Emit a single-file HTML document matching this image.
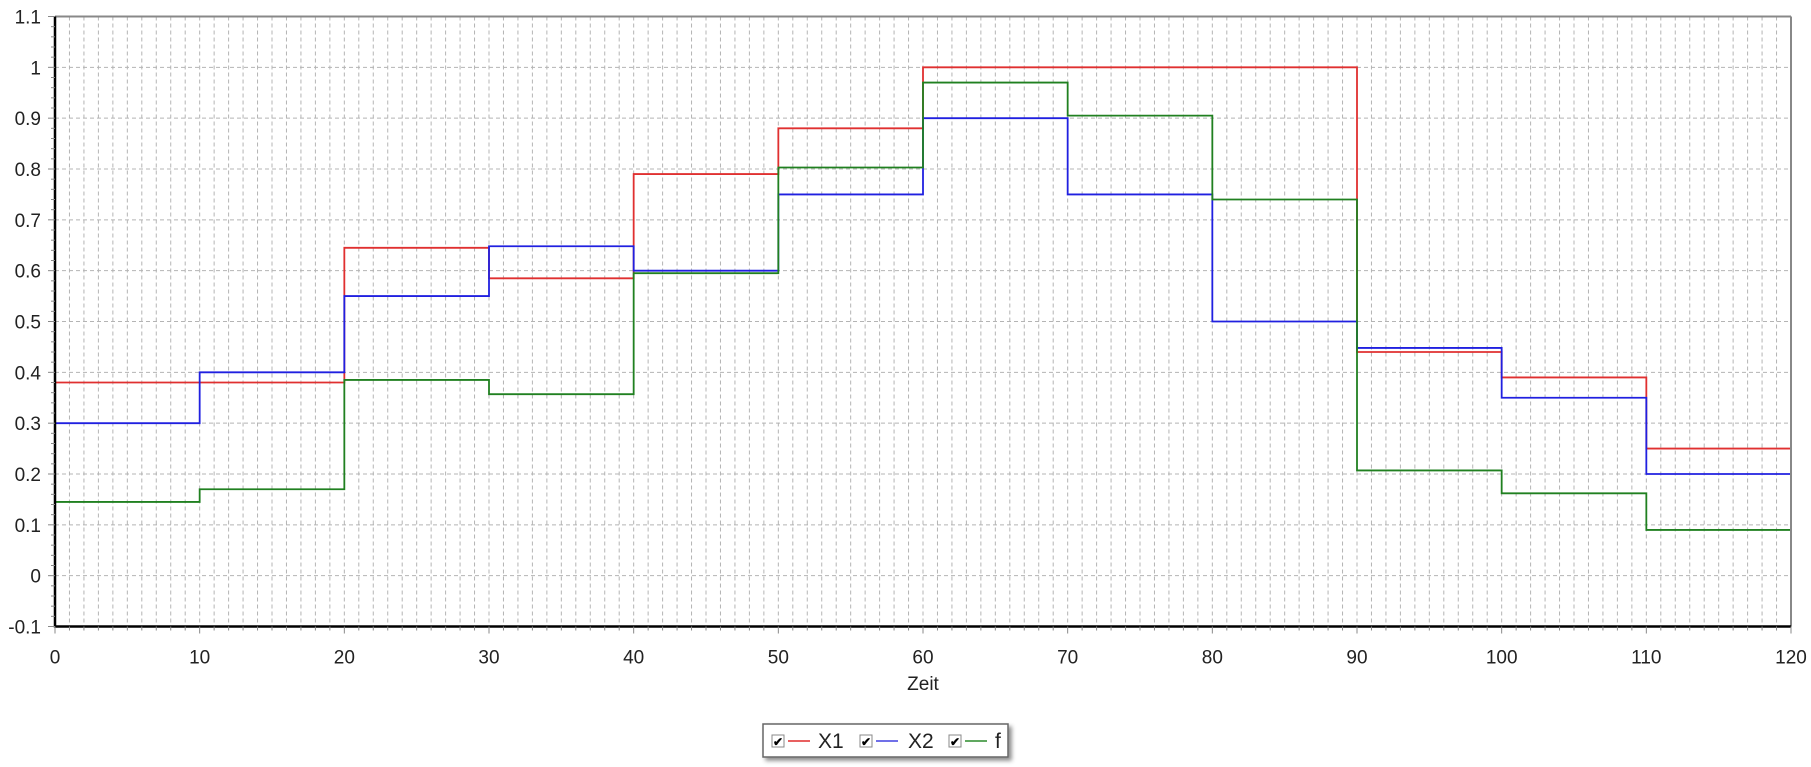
<!DOCTYPE html>
<html><head><meta charset="utf-8"><style>
html,body{margin:0;padding:0;background:#fff;width:1811px;height:767px;overflow:hidden}
svg{display:block;font-family:"Liberation Sans",sans-serif}
</style></head><body>
<svg id="chart" width="1811" height="767" xmlns="http://www.w3.org/2000/svg">
<defs><filter id="sh" x="-10%" y="-30%" width="130%" height="180%"><feDropShadow dx="3" dy="3" stdDeviation="2" flood-color="#000" flood-opacity="0.45"/></filter></defs>
<g id="grid"></g>
<g id="series"></g>
<g id="axes"></g>
<text x="923" y="690" font-size="19" text-anchor="middle" fill="#222">Zeit</text>
<g>
<rect x="763" y="724" width="245" height="33" fill="#fff" stroke="#666" stroke-width="1.5" filter="url(#sh)"/>
<g>
<rect x="772" y="735" width="12" height="12" fill="#fff" stroke="#888"/><text x="773" y="746" font-size="12" font-weight="bold">✔</text>
<line x1="788" y1="741" x2="810" y2="741" stroke="#e86060" stroke-width="2"/>
<text x="818" y="748" font-size="21" fill="#222">X1</text></g>
<g>
<rect x="860" y="735" width="12" height="12" fill="#fff" stroke="#888"/><text x="861" y="746" font-size="12" font-weight="bold">✔</text>
<line x1="876" y1="741" x2="898" y2="741" stroke="#7070e8" stroke-width="2"/>
<text x="908" y="748" font-size="21" fill="#222">X2</text></g>
<g>
<rect x="949" y="735" width="12" height="12" fill="#fff" stroke="#888"/><text x="950" y="746" font-size="12" font-weight="bold">✔</text>
<line x1="965" y1="741" x2="987" y2="741" stroke="#60a860" stroke-width="2"/>
<text x="995" y="748" font-size="21" fill="#222">f</text></g>
</g>
</svg>
<script>
const xStarts=[0,10,20,30,40,50,60,70,80,90,100,110];
const seriesX1=[0.38,0.38,0.645,0.585,0.79,0.88,1,1,1,0.44,0.39,0.25];
const seriesX2=[0.3,0.4,0.55,0.648,0.6,0.75,0.9,0.75,0.5,0.448,0.35,0.2];
const seriesF=[0.145,0.17,0.385,0.357,0.595,0.803,0.97,0.905,0.74,0.207,0.162,0.09];
const xTicks=[0,10,20,30,40,50,60,70,80,90,100,110,120];
const yTicks=[-0.1,0,0.1,0.2,0.3,0.4,0.5,0.6,0.7,0.8,0.9,1,1.1];
const yTickLabels=["-0.1","0","0.1","0.2","0.3","0.4","0.5","0.6","0.7","0.8","0.9","1","1.1"];
const L=55,R=1791,T=16.5,B=626.5,xMax=120;
const sx=v=>L+(R-L)*v/xMax;
const sy=v=>B-(B-T)*(v+0.1)/1.2;
const NS="http://www.w3.org/2000/svg";
function mk(tag,attrs,parent){const e=document.createElementNS(NS,tag);for(const k in attrs)e.setAttribute(k,attrs[k]);parent.appendChild(e);return e;}
const grid=document.getElementById('grid'),axes=document.getElementById('axes'),ser=document.getElementById('series');
for(let i=1;i<xMax;i++){const l=mk('line',{x1:sx(i),x2:sx(i),y1:T,y2:B,stroke:'#b4b4b4','stroke-width':1,'stroke-dasharray':'4,3'},grid);

}
yTicks.forEach(v=>{if(v>-0.1&&v<1.1){const l=mk('line',{x1:L,x2:R,y1:sy(v),y2:sy(v),stroke:'#b4b4b4','stroke-width':1,'stroke-dasharray':'4,3'},grid);

}});
function drawSeries(vals,color,name){let d='';vals.forEach((v,i)=>{const x0=sx(xStarts[i]),x1=sx(i+1<xStarts.length?xStarts[i+1]:xMax);d+=(i===0?'M':'L')+x0+','+sy(v)+'L'+x1+','+sy(v);});
const p=mk('path',{d:d,fill:'none',stroke:color,'stroke-width':1.8},ser);

}
drawSeries(seriesX1,'#e03030','line-x1');
drawSeries(seriesX2,'#2020e0','line-x2');
drawSeries(seriesF,'#208020','line-f');
mk('line',{x1:L,x2:R,y1:T,y2:T,stroke:'#888','stroke-width':2},axes);
mk('line',{x1:R,x2:R,y1:T,y2:B,stroke:'#888','stroke-width':2},axes);
mk('line',{x1:L,x2:L,y1:T,y2:B+1,stroke:'#000','stroke-width':2.5},axes);
mk('line',{x1:L,x2:R,y1:B,y2:B,stroke:'#000','stroke-width':2.5},axes);
for(let i=0;i<=xMax;i++){mk('line',{x1:sx(i),x2:sx(i),y1:B,y2:B+(i%10===0?7:4),stroke:'#888','stroke-width':1},axes);}
for(let k=0;k<=60;k++){const v=-0.1+k*0.02;mk('line',{x1:L-(k%5===0?7:4),x2:L,y1:sy(v),y2:sy(v),stroke:'#888','stroke-width':1},axes);}
xTicks.forEach(v=>{const t=mk('text',{x:sx(v),y:B+37,'font-size':19,'text-anchor':'middle',fill:'#222'},axes);t.textContent=v;

});
yTicks.forEach((v,i)=>{const t=mk('text',{x:L-14,y:sy(v)+7,'font-size':19,'text-anchor':'end',fill:'#222'},axes);t.textContent=yTickLabels[i];

});
</script>
</body></html>
